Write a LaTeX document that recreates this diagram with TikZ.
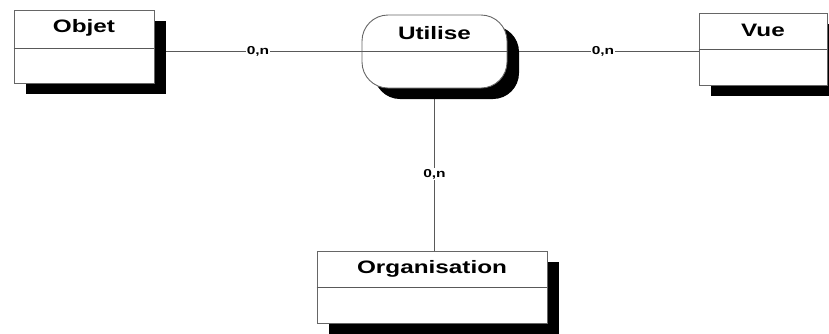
\documentclass[tikz,border=0pt]{standalone}
\usepackage{fontspec}
\setmainfont{Liberation Sans}[FakeStretch=1.35]
\usetikzlibrary{shadows,calc,backgrounds}
\tikzset{
  box/.style={draw=black!60, line width=0.9pt, fill=white, inner sep=0pt,
    general shadow={shadow xshift=12pt, shadow yshift=-11pt, fill=black, draw=none}},
  entity/.style={box, rectangle},
  assoc/.style={box, rectangle, rounded corners=26pt},
  title/.style={font=\fontsize{18}{20}\selectfont\bfseries, inner sep=0pt},
  card/.style={font=\fontsize{11.5}{13}\selectfont\bfseries, fill=white, inner sep=1.2pt},
  link/.style={draw=black!65, line width=0.8pt},
}
\begin{document}
\begin{tikzpicture}[x=1pt,y=-1pt]
\useasboundingbox (0,0) rectangle (829,333);

% entities and the association
\node[entity, minimum width=140pt, minimum height=73pt] (objet) at (84,46.5) {};
\node[entity, minimum width=128pt, minimum height=72pt] (vue) at (763,49) {};
\node[entity, minimum width=230pt, minimum height=72pt] (org) at (432,287) {};
\node[assoc, minimum width=145pt, minimum height=73pt] (utilise) at (434.5,51.5) {};

% compartment separators
\draw[link] ([yshift=-1.5pt]objet.west) -- ([yshift=-1.5pt]objet.east);
\draw[link] (vue.west) -- (vue.east);
\draw[link] (org.west) -- (org.east);
\draw[link] (utilise.west) -- (utilise.east);

% titles
\node[title] (objetT) at ($(objet.north)!0.5!(objet.center)$) {Objet};
\node[title] (vueT) at ($(vue.north)!0.5!(vue.center)$) {Vue};
\node[title] (orgT) at ($(org.north)!0.5!(org.center)$) {Organisation};
\node[title] (utiliseT) at ($(utilise.north)!0.5!(utilise.center)$) {Utilise};

% links with cardinalities
\begin{scope}[on background layer]
\draw[link] (objet.east |- utilise.west) -- node[card] (c1) {0,n} (utilise.west);
\draw[link] (utilise.east) -- node[card] (c2) {0,n} (vue.west |- utilise.east);
\draw[link] (utilise.south) -- node[card, pos=0.53] (c3) {0,n} (utilise.south |- org.north);
\end{scope}
\end{tikzpicture}
\end{document}
